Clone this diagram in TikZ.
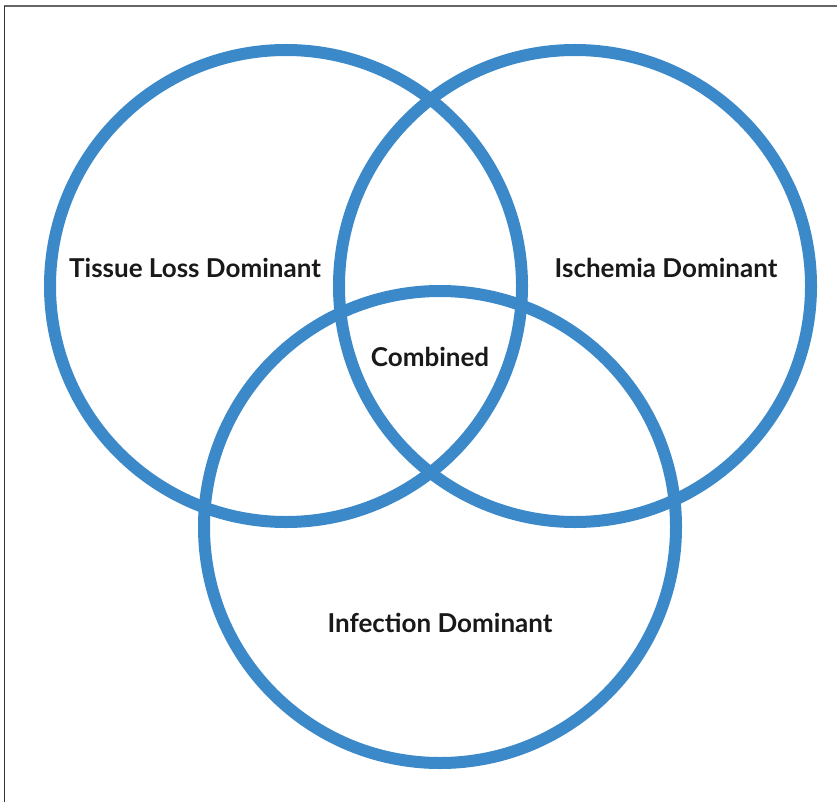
\documentclass[tikz,border=0pt]{standalone}
\usepackage{fontspec}
\setsansfont{Lato}
\usetikzlibrary{positioning}
\definecolor{ringblue}{RGB}{59,137,201}
\tikzset{
    % One thick blue ring of the diagram
    ring/.style={
        draw=ringblue, line width=12pt, circle,
        minimum size=472pt, inner sep=0},
%
    % Bold sans text for each region
    region label/.style={
        font=\sffamily\bfseries\fontsize{26}{30}\selectfont,
        text=black!90, inner sep=0},
%
    % Thin frame lines at the top and the left
    frame top/.style={draw=black!60, line width=2pt},
    frame left/.style={draw=black!80, line width=1.5pt}}

\begin{document}
\begin{tikzpicture}[x=1pt, y=-1pt]

% Page size

\useasboundingbox (0,0) rectangle (837,802);

\path [frame top] (4,6.5) -- (837,6.5);
\path [frame left] (4.5,6) -- (4.5,802);

% The three rings

\node [ring] (tissue) at (286,286) {};
\node [ring] (ischemia) at (575,286) {};
\node [ring] (infection) at (440,527) {};

% Labels

\node [region label] (tissue label) at (195,268) {Tissue Loss Dominant};
\node [region label] (ischemia label) at (666,268) {Ischemia Dominant};
\node [region label] (combined label) at (430,357) {Combined};
\node [region label] (infection label) at (440,623) {Infection Dominant};

\end{tikzpicture}
\end{document}
